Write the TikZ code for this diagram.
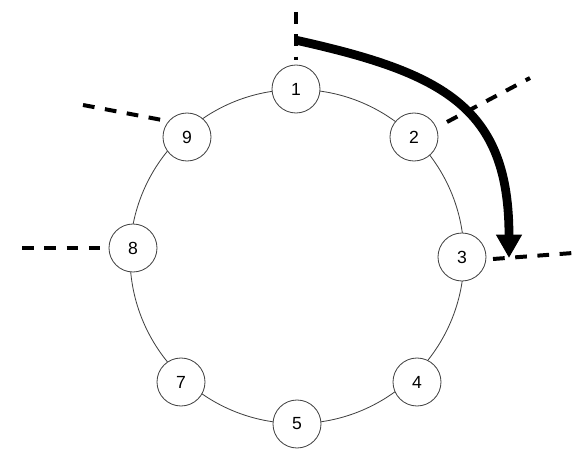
\documentclass[tikz,border=0pt]{standalone}
\usepackage{fontspec}
\setmainfont{Liberation Sans}
\usetikzlibrary{arrows.meta}

\begin{document}
\begin{tikzpicture}[
    x=0.03cm, y=-0.03cm,
    station/.style={circle, draw=black!75, line width=0.7pt, fill=white, minimum size=1.44cm, inner sep=0pt, font=\fontsize{15}{18}\selectfont},
    ring/.style={draw=black!75, line width=0.7pt},
    border/.style={line width=3.4pt, dash pattern=on 10pt off 9pt},
    move/.style={-{Triangle[width=21pt, length=20pt]}, line width=7.5pt}
]
\useasboundingbox (0,0) rectangle (588,461);

% Ring
\coordinate (centre) at (297,256.5);
\draw[ring] (centre) circle[radius=5.01cm];

% Stations
\node[station] (n1) at (296,89) {1};
\node[station] (n2) at (414,137) {2};
\node[station] (n3) at (462,257) {3};
\node[station] (n4) at (417,382) {4};
\node[station] (n5) at (297,424) {5};
\node[station] (n7) at (181,382) {7};
\node[station] (n8) at (133,248) {8};
\node[station] (n9) at (187,137) {9};

% Borders
\coordinate (top1) at (296,12);  \coordinate (top2) at (296,60);
\coordinate (ne1) at (447,122);  \coordinate (ne2) at (530,78);
\coordinate (e1) at (493,259);   \coordinate (e2) at (573,253);
\coordinate (nw1) at (162,120);  \coordinate (nw2) at (83,105);
\coordinate (w1) at (102,248);   \coordinate (w2) at (22,248);
\draw[border] (top1) -- (top2);
\draw[border] (ne1) -- (ne2);
\draw[border] (e1) -- (e2);
\draw[border] (nw2) -- (nw1);
\draw[border] (w2) -- (w1);

% Rotation
\coordinate (from) at (295,40);
\coordinate (to) at (509,258);
\draw[move] (from) .. controls (445,73) and (509,108) .. (to);
\end{tikzpicture}
\end{document}
